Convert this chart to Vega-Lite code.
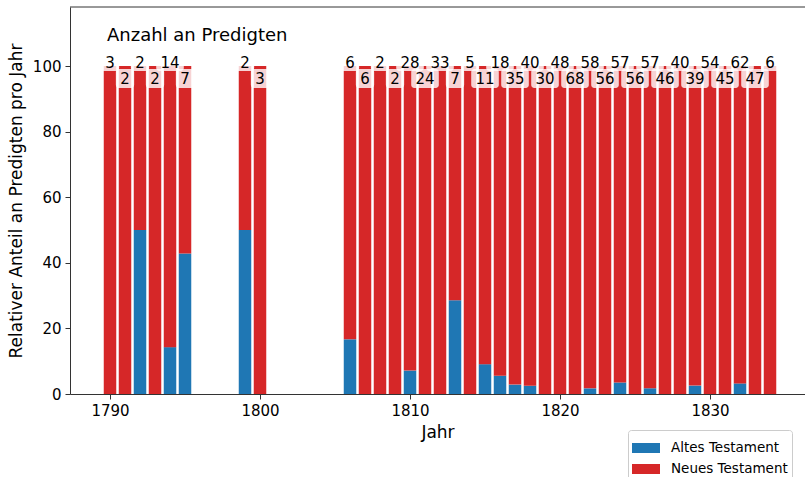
{
  "$schema": "https://vega.github.io/schema/vega-lite/v6.json",
  "autosize": {"type": "none"},
  "padding": {"left": 70, "top": 7, "right": 0, "bottom": 83},
  "width": 735,
  "height": 387,
  "config": {
    "font": "DejaVu Sans",
    "view": {"stroke": null},
    "axis": {
      "grid": false,
      "domainColor": "#333333",
      "tickColor": "#333333",
      "tickSize": 5,
      "labelFontSize": 15,
      "labelColor": "#000000",
      "labelFont": "DejaVu Sans",
      "titleFont": "DejaVu Sans",
      "titleFontSize": 17,
      "titleFontWeight": "normal",
      "titleColor": "#000000",
      "labelPadding": 4
    },
    "legend": {
      "orient": "none",
      "legendX": 558,
      "legendY": 423,
      "padding": 4,
      "strokeColor": "#cccccc",
      "fillColor": "#ffffff",
      "cornerRadius": 3,
      "labelFont": "DejaVu Sans",
      "labelFontSize": 13.5,
      "labelColor": "#000000",
      "labelOffset": 11,
      "symbolType": "M-1,-0.357H1V0.357H-1Z",
      "symbolSize": 784,
      "symbolStrokeWidth": 0,
      "symbolOpacity": 1,
      "rowPadding": -2
    }
  },
  "data": {
    "values": [
      {"Jahr": 1790, "Anzahl": 3, "Altes Testament": 0, "Neues Testament": 100},
      {"Jahr": 1791, "Anzahl": 2, "Altes Testament": 0, "Neues Testament": 100},
      {"Jahr": 1792, "Anzahl": 2, "Altes Testament": 50, "Neues Testament": 50},
      {"Jahr": 1793, "Anzahl": 2, "Altes Testament": 0, "Neues Testament": 100},
      {"Jahr": 1794, "Anzahl": 14, "Altes Testament": 14.29, "Neues Testament": 85.71},
      {"Jahr": 1795, "Anzahl": 7, "Altes Testament": 42.86, "Neues Testament": 57.14},
      {"Jahr": 1799, "Anzahl": 2, "Altes Testament": 50, "Neues Testament": 50},
      {"Jahr": 1800, "Anzahl": 3, "Altes Testament": 0, "Neues Testament": 100},
      {"Jahr": 1806, "Anzahl": 6, "Altes Testament": 16.67, "Neues Testament": 83.33},
      {"Jahr": 1807, "Anzahl": 6, "Altes Testament": 0, "Neues Testament": 100},
      {"Jahr": 1808, "Anzahl": 2, "Altes Testament": 0, "Neues Testament": 100},
      {"Jahr": 1809, "Anzahl": 2, "Altes Testament": 0, "Neues Testament": 100},
      {"Jahr": 1810, "Anzahl": 28, "Altes Testament": 7.14, "Neues Testament": 92.86},
      {"Jahr": 1811, "Anzahl": 24, "Altes Testament": 0, "Neues Testament": 100},
      {"Jahr": 1812, "Anzahl": 33, "Altes Testament": 0, "Neues Testament": 100},
      {"Jahr": 1813, "Anzahl": 7, "Altes Testament": 28.57, "Neues Testament": 71.43},
      {"Jahr": 1814, "Anzahl": 5, "Altes Testament": 0, "Neues Testament": 100},
      {"Jahr": 1815, "Anzahl": 11, "Altes Testament": 9.09, "Neues Testament": 90.91},
      {"Jahr": 1816, "Anzahl": 18, "Altes Testament": 5.56, "Neues Testament": 94.44},
      {"Jahr": 1817, "Anzahl": 35, "Altes Testament": 2.86, "Neues Testament": 97.14},
      {"Jahr": 1818, "Anzahl": 40, "Altes Testament": 2.5, "Neues Testament": 97.5},
      {"Jahr": 1819, "Anzahl": 30, "Altes Testament": 0, "Neues Testament": 100},
      {"Jahr": 1820, "Anzahl": 48, "Altes Testament": 0, "Neues Testament": 100},
      {"Jahr": 1821, "Anzahl": 68, "Altes Testament": 0, "Neues Testament": 100},
      {"Jahr": 1822, "Anzahl": 58, "Altes Testament": 1.72, "Neues Testament": 98.28},
      {"Jahr": 1823, "Anzahl": 56, "Altes Testament": 0, "Neues Testament": 100},
      {"Jahr": 1824, "Anzahl": 57, "Altes Testament": 3.51, "Neues Testament": 96.49},
      {"Jahr": 1825, "Anzahl": 56, "Altes Testament": 0, "Neues Testament": 100},
      {"Jahr": 1826, "Anzahl": 57, "Altes Testament": 1.75, "Neues Testament": 98.25},
      {"Jahr": 1827, "Anzahl": 46, "Altes Testament": 0, "Neues Testament": 100},
      {"Jahr": 1828, "Anzahl": 40, "Altes Testament": 0, "Neues Testament": 100},
      {"Jahr": 1829, "Anzahl": 39, "Altes Testament": 2.56, "Neues Testament": 97.44},
      {"Jahr": 1830, "Anzahl": 54, "Altes Testament": 0, "Neues Testament": 100},
      {"Jahr": 1831, "Anzahl": 45, "Altes Testament": 0, "Neues Testament": 100},
      {"Jahr": 1832, "Anzahl": 62, "Altes Testament": 3.23, "Neues Testament": 96.77},
      {"Jahr": 1833, "Anzahl": 47, "Altes Testament": 0, "Neues Testament": 100},
      {"Jahr": 1834, "Anzahl": 6, "Altes Testament": 0, "Neues Testament": 100}
    ]
  },
  "layer": [
    {
      "transform": [
        {"fold": ["Altes Testament", "Neues Testament"], "as": ["Testament", "Anteil"]}
      ],
      "mark": {"type": "bar", "width": 12.5},
      "encoding": {
        "x": {
          "field": "Jahr",
          "type": "quantitative",
          "scale": {"domain": [1787.333, 1836.333], "nice": false, "zero": false, "padding": 0},
          "axis": {"values": [1790, 1800, 1810, 1820, 1830], "format": "d", "title": "Jahr", "titlePadding": 6}
        },
        "y": {
          "field": "Anteil",
          "type": "quantitative",
          "stack": "zero",
          "scale": {"domain": [0, 118], "nice": false},
          "axis": {"values": [0, 20, 40, 60, 80, 100], "title": "Relativer Anteil an Predigten pro Jahr", "titlePadding": 7}
        },
        "color": {
          "field": "Testament",
          "type": "nominal",
          "scale": {"domain": ["Altes Testament", "Neues Testament"], "range": ["#1f77b4", "#d62728"]},
          "legend": {"title": null}
        },
        "order": {"field": "Testament", "sort": "ascending"}
      }
    },
    {
      "transform": [
        {"window": [{"op": "row_number", "as": "nr"}], "sort": [{"field": "Jahr"}]},
        {"calculate": "datum.nr % 2 == 1 ? 101.4 : 96.2", "as": "labelY"},
        {"calculate": "datum.labelY - 2.9", "as": "boxY"},
        {"calculate": "datum.labelY + 2.9", "as": "boxY2"},
        {"calculate": "datum.Jahr - (datum.Anzahl >= 10 ? 0.92 : 0.61)", "as": "boxX"},
        {"calculate": "datum.Jahr + (datum.Anzahl >= 10 ? 0.92 : 0.61)", "as": "boxX2"}
      ],
      "mark": {"type": "rect", "fill": "#ffffff", "opacity": 0.8, "cornerRadius": 3},
      "encoding": {
        "x": {"field": "boxX", "type": "quantitative"},
        "x2": {"field": "boxX2"},
        "y": {"field": "boxY", "type": "quantitative"},
        "y2": {"field": "boxY2"}
      }
    },
    {
      "transform": [
        {"window": [{"op": "row_number", "as": "nr"}], "sort": [{"field": "Jahr"}]},
        {"calculate": "datum.nr % 2 == 1 ? 101.0 : 96.0", "as": "labelY"}
      ],
      "mark": {"type": "text", "fontSize": 15, "color": "#000000", "baseline": "middle", "align": "center"},
      "encoding": {
        "x": {"field": "Jahr", "type": "quantitative"},
        "y": {"field": "labelY", "type": "quantitative"},
        "text": {"field": "Anzahl", "type": "quantitative", "format": "d"}
      }
    },
    {
      "data": {"values": [{"label": "Anzahl an Predigten"}]},
      "mark": {"type": "text", "fontSize": 18, "color": "#000000", "align": "left", "baseline": "middle"},
      "encoding": {
        "x": {"datum": 1789.8},
        "y": {"datum": 109.1},
        "text": {"field": "label", "type": "nominal"}
      }
    },
    {
      "data": {"values": [{}]},
      "mark": {"type": "rule", "color": "#333333", "strokeWidth": 1},
      "encoding": {"y": {"datum": 118}}
    }
  ]
}
